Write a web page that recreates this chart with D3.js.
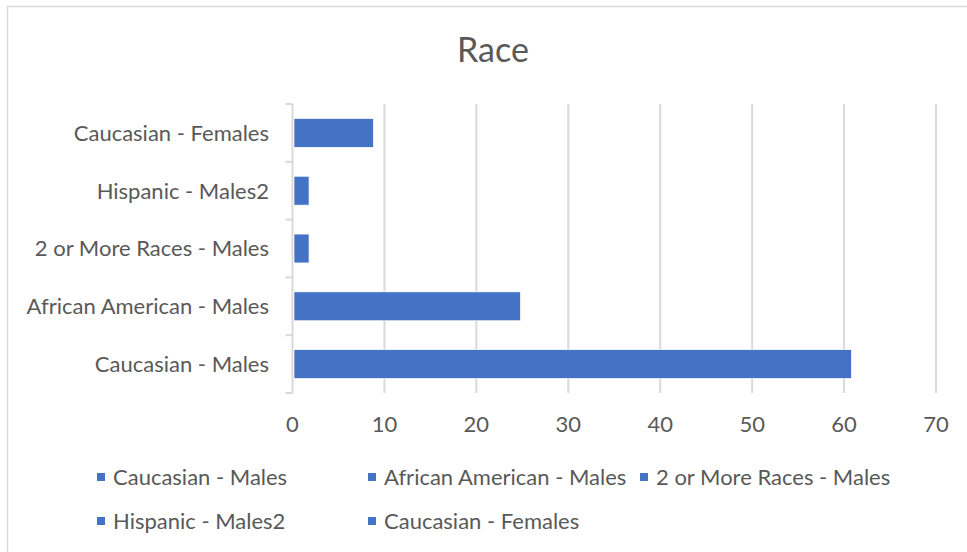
<!DOCTYPE html>
<html>
<head>
<meta charset="utf-8">
<script src="https://cdn.jsdelivr.net/npm/d3@7"></script>
<style>
  html, body { margin: 0; padding: 0; background: #fff; }
  svg { display: block; }
  text { font-family: Lato, "Open Sans", sans-serif; fill: #595959; }
</style>
</head>
<body>
<svg id="chart" width="967" height="552"></svg>
<script>
const title = "Race";
const categories = ["Caucasian - Males", "African American - Males", "2 or More Races - Males", "Hispanic - Males2", "Caucasian - Females"];
const values = [60.8, 24.8, 1.8, 1.8, 8.8];
const xTicks = [0, 10, 20, 30, 40, 50, 60, 70];

const W = 967, H = 552;
const plot = { left: 292.5, right: 936, top: 104, bottom: 393 };
const barColor = "#4472C4";
const gridColor = "#d9d9d9";

const svg = d3.select("#chart");

svg.append("rect").attr("width", W).attr("height", H).attr("fill", "#fff");
// chart border (only top/left visible)
svg.append("rect")
  .attr("x", 7.5).attr("y", 6.5)
  .attr("width", 1000).attr("height", 600)
  .attr("fill", "none").attr("stroke", gridColor).attr("stroke-width", 1.5);

const x = d3.scaleLinear().domain([0, 70]).range([plot.left, plot.right]);
const y = d3.scaleBand().domain(categories).range([plot.bottom, plot.top])
  .paddingInner(0.5).paddingOuter(0.25);

// title
svg.append("text")
  .attr("x", 493).attr("y", 62)
  .attr("text-anchor", "middle")
  .style("font-size", "34px")
  .style("font-weight", 400)
  .text(title);

// gridlines
svg.append("g").selectAll("line")
  .data(xTicks.filter(d => d > 0))
  .join("line")
  .attr("x1", d => x(d)).attr("x2", d => x(d))
  .attr("y1", plot.top).attr("y2", plot.bottom)
  .attr("stroke", gridColor).attr("stroke-width", 2);

// x tick labels
svg.append("g").selectAll("text")
  .data(xTicks)
  .join("text")
  .attr("x", d => x(d)).attr("y", 432)
  .attr("text-anchor", "middle")
  .style("font-size", "22px")
  .text(d => d);

// left axis line + band tick marks
const bandEdges = d3.range(categories.length + 1).map(i => plot.bottom - i * (plot.bottom - plot.top) / categories.length);
const ax = svg.append("g");
ax.append("line")
  .attr("x1", plot.left).attr("x2", plot.left)
  .attr("y1", plot.top).attr("y2", plot.bottom)
  .attr("stroke", gridColor).attr("stroke-width", 2);
ax.selectAll("line.tk")
  .data(bandEdges)
  .join("line").attr("class", "tk")
  .attr("x1", plot.left - 7).attr("x2", plot.left)
  .attr("y1", d => d).attr("y2", d => d)
  .attr("stroke", gridColor).attr("stroke-width", 2);

// category labels
svg.append("g").selectAll("text")
  .data(categories)
  .join("text")
  .attr("x", 269)
  .attr("y", d => y(d) + y.bandwidth() / 2)
  .attr("dy", "0.36em")
  .attr("text-anchor", "end")
  .style("font-size", "22px")
  .text(d => d);

// bars
svg.append("g").selectAll("rect")
  .data(categories.map((c, i) => ({ c, v: values[i] })))
  .join("rect")
  .attr("x", x(0) + 1.5)
  .attr("y", d => y(d.c))
  .attr("width", d => x(d.v) - x(0) - 1.5)
  .attr("height", y.bandwidth())
  .attr("fill", barColor)
  .attr("stroke", "#fff").attr("stroke-width", 0.7);

// legend
const legendPos = [[97, 477], [368, 477], [640, 477], [97, 521], [368, 521]];
const lg = svg.append("g").selectAll("g")
  .data(categories)
  .join("g")
  .attr("transform", (d, i) => `translate(${legendPos[i][0]},${legendPos[i][1]})`);
lg.append("rect")
  .attr("x", 0).attr("y", -4).attr("width", 8).attr("height", 8)
  .attr("fill", barColor);
lg.append("text")
  .attr("x", 16).attr("y", 0).attr("dy", "0.36em")
  .style("font-size", "22px")
  .text(d => d);
</script>
</body>
</html>
